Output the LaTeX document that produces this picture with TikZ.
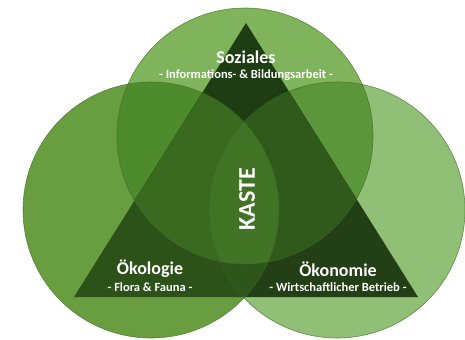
\documentclass[tikz,border=0pt]{standalone}
\usepackage{fontspec}
\setmainfont{Carlito}
\definecolor{oL}{RGB}{104,158,64}
\definecolor{oR}{RGB}{143,192,117}
\definecolor{oT}{RGB}{128,180,92}
\definecolor{oLT}{RGB}{77,139,44}
\definecolor{oRT}{RGB}{92,150,58}
\definecolor{oLR}{RGB}{80,140,50}
\definecolor{oLTR}{RGB}{70,130,40}
\definecolor{iL}{RGB}{45,82,25}
\definecolor{iR}{RGB}{35,63,21}
\definecolor{iT}{RGB}{31,61,18}
\definecolor{iLT}{RGB}{58,106,32}
\definecolor{iRT}{RGB}{48,90,28}
\definecolor{iLR}{RGB}{46,86,26}
\definecolor{iLTR}{RGB}{64,116,36}
\definecolor{edge}{RGB}{60,105,35}
\newcommand\vennfill[7]{%
  \fill[#1] (cL) circle[radius=128bp];
  \fill[#2] (cR) circle[radius=128bp];
  \fill[#3] (cT) circle[radius=128bp];
  \begin{scope}
    \clip (cL) circle[radius=128bp];
    \fill[#4] (cT) circle[radius=128bp];
    \fill[#6] (cR) circle[radius=128bp];
  \end{scope}
  \begin{scope}
    \clip (cR) circle[radius=128bp];
    \fill[#5] (cT) circle[radius=128bp];
  \end{scope}
  \begin{scope}
    \clip (cL) circle[radius=128bp];
    \clip (cR) circle[radius=128bp];
    \fill[#7] (cT) circle[radius=128bp];
  \end{scope}}
\tikzset{
  title/.style={text=white, font=\bfseries\fontsize{18bp}{20bp}\selectfont, inner sep=0pt},
  subtitle/.style={text=white, font=\bfseries\fontsize{12.5bp}{14bp}\selectfont, inner sep=0pt},
  big/.style={text=white, font=\bfseries\fontsize{24bp}{26bp}\selectfont, inner sep=0pt, rotate=90},
  ring/.style={draw=edge, line width=0.6bp, draw opacity=0.7}
}
\begin{document}
\begin{tikzpicture}[x=1bp,y=-1bp]
\useasboundingbox (0,0) rectangle (465,339);
\coordinate (cL) at (151,210);
\coordinate (cR) at (337,210);
\coordinate (cT) at (245,136);
\coordinate (A) at (246,23);
\coordinate (B) at (74,297);
\coordinate (C) at (418,297);
\vennfill{oL}{oR}{oT}{oLT}{oRT}{oLR}{oLTR}
\begin{scope}
  \clip (A) -- (B) -- (C) -- cycle;
  \vennfill{iL}{iR}{iT}{iLT}{iRT}{iLR}{iLTR}
\end{scope}
\draw[ring] (cL) circle[radius=128bp];
\draw[ring] (cR) circle[radius=128bp];
\draw[ring] (cT) circle[radius=128bp];
\node[title] (soz) at (246,57) {Soziales};
\node[subtitle] (sozs) at (246,75) {- Informations- \& Bildungsarbeit -};
\node[title] (oek) at (150,269) {Ökologie};
\node[subtitle] (oeks) at (150,287) {- Flora \& Fauna -};
\node[title] (oekn) at (338,269) {Ökonomie};
\node[subtitle] (oekns) at (338,287) {- Wirtschaftlicher Betrieb -};
\node[big] (kaste) at (247,199) {KASTE};
\end{tikzpicture}
\end{document}
